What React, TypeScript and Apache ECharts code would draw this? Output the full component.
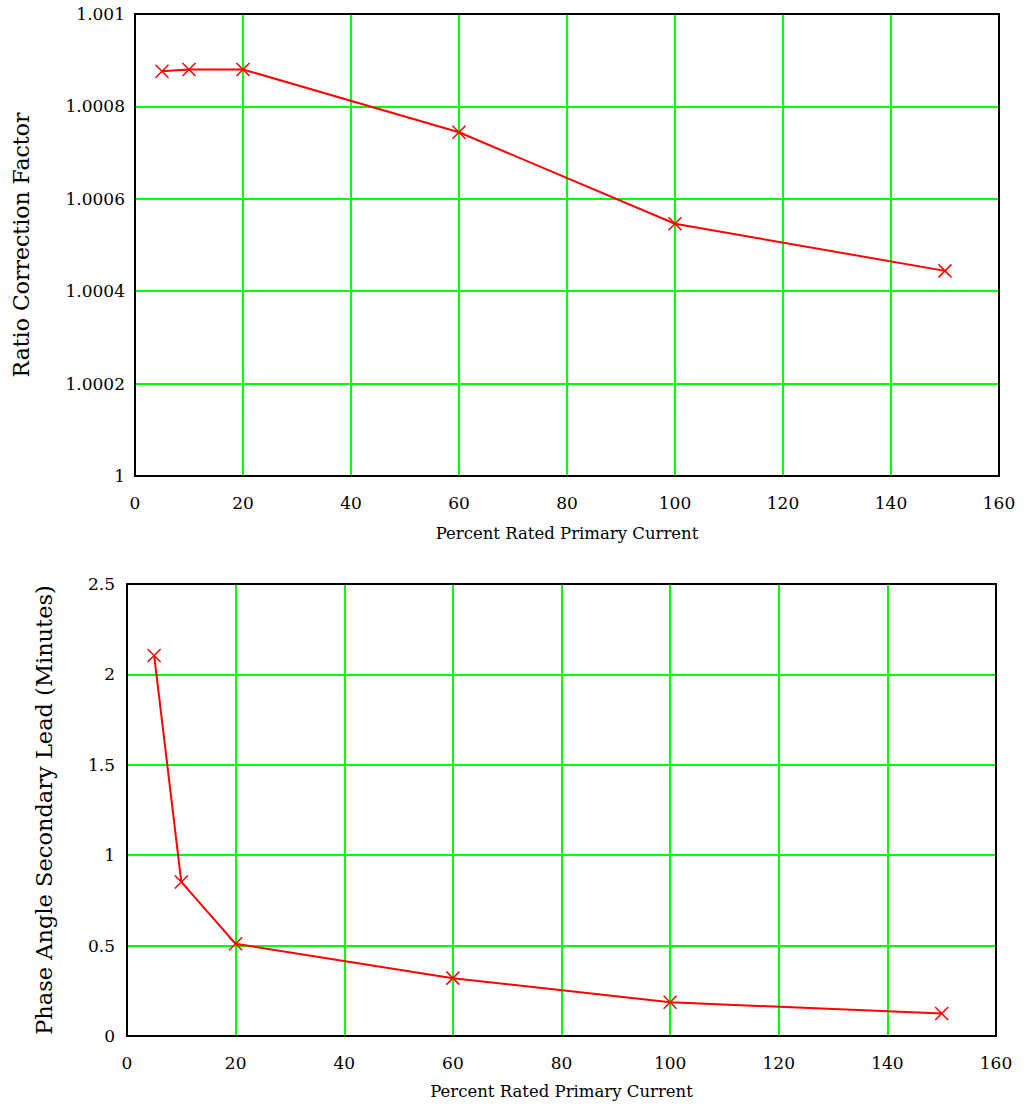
import React, { useEffect, useRef } from "react";
import * as echarts from "echarts";

const percentCurrent = [5, 10, 20, 60, 100, 150];
const ratioCorrection = [1.000876, 1.00088, 1.00088, 1.000744, 1.000546, 1.000444];
const phaseAngle = [2.105, 0.852, 0.51, 0.32, 0.187, 0.124];

const xTitle = "Percent Rated Primary Current";
const ratioTitle = "Ratio Correction Factor";
const phaseTitle = "Phase Angle Secondary Lead (Minutes)";

const FONT = "'DejaVu Serif', 'Liberation Serif', serif";
const RED = "#ff0000";
const GREEN = "#00ff00";
const CROSS = "path://M0 0L10 10M10 0L0 10";

export default function App() {
  const ref = useRef<HTMLDivElement>(null);
  useEffect(() => {
    if (!ref.current) return;
    const chart = echarts.init(ref.current, undefined, { renderer: "svg" });
    const xAxisBase = (gridIndex: number, gap: number) => ({
      type: "value",
      gridIndex,
      min: 0,
      max: 160,
      interval: 20,
      name: xTitle,
      nameLocation: "middle",
      nameGap: gap,
      nameTextStyle: { fontFamily: FONT, fontSize: 16.5, color: "#000" },
      axisLine: { show: true, onZero: false, lineStyle: { color: "#000", width: 2 } },
      axisTick: { show: false },
      axisLabel: { fontFamily: FONT, fontSize: 17, color: "#000", margin: 18 },
      splitLine: { show: true, lineStyle: { color: GREEN, width: 2 } },
    });
    chart.setOption({
      animation: false,
      backgroundColor: "#fff",
      grid: [
        { left: 135, top: 14, width: 864, height: 462, show: true, z: 1, borderColor: "#000", borderWidth: 2, backgroundColor: "transparent" },
        { left: 127, top: 584, width: 869, height: 452, show: true, z: 1, borderColor: "#000", borderWidth: 2, backgroundColor: "transparent" },
      ],
      xAxis: [xAxisBase(0, 49), xAxisBase(1, 47)],
      yAxis: [
        {
          type: "value",
          gridIndex: 0,
          min: 1,
          max: 1.001,
          interval: 0.0002,
          name: ratioTitle,
          nameLocation: "middle",
          nameGap: 103,
          nameTextStyle: { fontFamily: FONT, fontSize: 22, color: "#000" },
          axisLine: { show: true, lineStyle: { color: "#000", width: 2 } },
          axisTick: { show: false },
          axisLabel: {
            fontFamily: FONT,
            fontSize: 17,
            color: "#000",
            margin: 10,
            formatter: (v: number) => String(parseFloat(v.toFixed(4))),
          },
          splitLine: { show: true, lineStyle: { color: GREEN, width: 2 } },
        },
        {
          type: "value",
          gridIndex: 1,
          min: 0,
          max: 2.5,
          interval: 0.5,
          name: phaseTitle,
          nameLocation: "middle",
          nameGap: 72,
          nameTextStyle: { fontFamily: FONT, fontSize: 22.5, color: "#000" },
          axisLine: { show: true, lineStyle: { color: "#000", width: 2 } },
          axisTick: { show: false },
          axisLabel: { fontFamily: FONT, fontSize: 17, color: "#000", margin: 12 },
          splitLine: { show: true, lineStyle: { color: GREEN, width: 2 } },
        },
      ],
      series: [
        {
          type: "line",
          xAxisIndex: 0,
          yAxisIndex: 0,
          data: percentCurrent.map((x, i) => [x, ratioCorrection[i]]),
          lineStyle: { color: RED, width: 2 },
          symbol: CROSS,
          symbolSize: 13,
          itemStyle: { color: "none", borderColor: RED, borderWidth: 1.5 },
          z: 5,
        },
        {
          type: "line",
          xAxisIndex: 1,
          yAxisIndex: 1,
          data: percentCurrent.map((x, i) => [x, phaseAngle[i]]),
          lineStyle: { color: RED, width: 2 },
          symbol: CROSS,
          symbolSize: 13,
          itemStyle: { color: "none", borderColor: RED, borderWidth: 1.5 },
          z: 5,
        },
      ],
    });
    return () => chart.dispose();
  }, []);
  return (
    <div
      ref={ref}
      style={{ position: "absolute", left: 0, top: 0, width: 1025, height: 1107, background: "#fff" }}
    />
  );
}
